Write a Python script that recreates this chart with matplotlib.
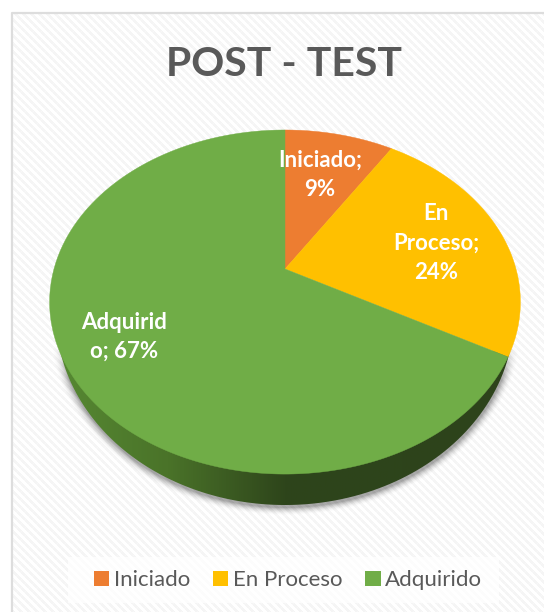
import numpy as np
import matplotlib
matplotlib.use("Agg")
import matplotlib.pyplot as plt
from matplotlib.patches import Polygon, Patch, Rectangle
from matplotlib.colors import LinearSegmentedColormap

plt.rcParams['font.family'] = ['Lato', 'DejaVu Sans']

title = "POST - TEST"
categories = ["Iniciado", "En Proceso", "Adquirido"]
values = [9, 24, 67]
colors = ["#ED7D31", "#FFC000", "#70AD47"]
label_text = ["Iniciado;\n9%", "En\nProceso;\n24%", "Adquirid\no; 67%"]
label_pos = [(320, 175), (436, 243), (124, 337)]

W, H = 544, 612
fig = plt.figure(figsize=(W / 100, H / 100), dpi=100, facecolor="white")
ax = fig.add_axes([0, 0, 1, 1])
ax.set_xlim(0, W)
ax.set_ylim(H, 0)
ax.axis("off")

# Panel: woven diagonal stripes and thin border
px, py = 12, 13
yy, xx = np.mgrid[py:H, px:W]
stripe = ((xx - yy) % 8 < 4) * 0.04 + ((xx + yy) % 8 < 1) * -0.012
ax.imshow(1 - np.clip(stripe, 0, 1), cmap="gray", vmin=0, vmax=1,
          extent=(px, W, H, py), zorder=0, interpolation="bilinear", aspect="auto")
ax.set_xlim(0, W)
ax.set_ylim(H, 0)
ax.plot([px, px, W], [H, py, py], color="#DDDDDD", lw=1.6, zorder=1)

# Perspective of the pie's top face
cx, cy, Rx, Ry, k = 285, 269, 231, 165.7, 0.192


def project(theta):
    u, v = np.sin(theta), np.cos(theta)
    s = 1 / (1 + k * v)
    return cx + Rx * u * s, cy - Ry * v * s


# Lower outline of the pie's thickness
sx, sy, srx, sry = 285, 315, 229, 190

# Soft shadow beneath the pie
gy, gx = np.mgrid[300:540, 30:540]
dist = (np.sqrt(((gx - sx) / srx) ** 2 + ((gy - (sy + 2)) / sry) ** 2) - 1) * 205
fade = np.clip((gy - 345) / 35, 0, 1)
alpha = 0.34 * np.clip(1 - dist / 9, 0, 1) ** 2 * fade
shadow = np.zeros(gx.shape + (4,))
shadow[..., 3] = alpha
ax.imshow(shadow, extent=(30, 540, 540, 300), zorder=2, aspect="auto")

# Side wall with a horizontal gradient
t = np.linspace(0, 2 * np.pi, 720)
ox, oy = sx + srx * np.cos(t), sy + sry * np.sin(t)
keep = oy > 350
order = np.argsort(np.arctan2(oy[keep] - 350, ox[keep] - sx))
wall = Polygon(np.column_stack([ox[keep][order], oy[keep][order]]),
               closed=True, transform=ax.transData, fc="none", ec="none")
ax.add_patch(wall)
side_cmap = LinearSegmentedColormap.from_list(
    "side", [(0, "#578A33"), (0.25, "#4A7329"), (0.5, "#2E451B"), (1, "#2D431B")])
grad = ax.imshow(np.linspace(0, 1, 512)[None, :], cmap=side_cmap,
                 extent=(50, 520, 520, 340), zorder=3, aspect="auto")
grad.set_clip_path(wall)
ax.set_xlim(0, W)
ax.set_ylim(H, 0)

# Top-face slices built from the values
start = 0.0
total = sum(values)
for val, col in zip(values, colors):
    end = start + val / total * 2 * np.pi
    th = np.linspace(start, end, 240)
    x, y = project(th)
    pts = np.column_stack([np.r_[cx, x], np.r_[cy, y]])
    ax.add_patch(Polygon(pts, closed=True, fc=col, ec=col, lw=0.3, zorder=4))
    start = end

for txt, (lx, ly) in zip(label_text, label_pos):
    ax.text(lx, ly, txt, color="white", fontsize=16, fontweight="bold",
            ha="center", va="center", linespacing=1.48, zorder=5)

ax.text(284, 65, title, color="#595959", fontsize=29.5, fontweight="bold",
        ha="center", va="center", zorder=5)

# Legend
ax.add_patch(Rectangle((68, 557), 431, 46, fc="white", ec="none", alpha=0.75, zorder=5))
handles = [Patch(fc=c, ec="none") for c in colors]
leg = ax.legend(handles, categories, loc="center", ncol=3,
                bbox_to_anchor=(288 / W, 1 - 580 / H), frameon=False,
                fontsize=16, labelcolor="#595959", handlelength=0.68, handleheight=0.68,
                handletextpad=0.2, columnspacing=1.05, borderpad=0)
leg.set_zorder(6)

fig.savefig("out.png", dpi=100)
